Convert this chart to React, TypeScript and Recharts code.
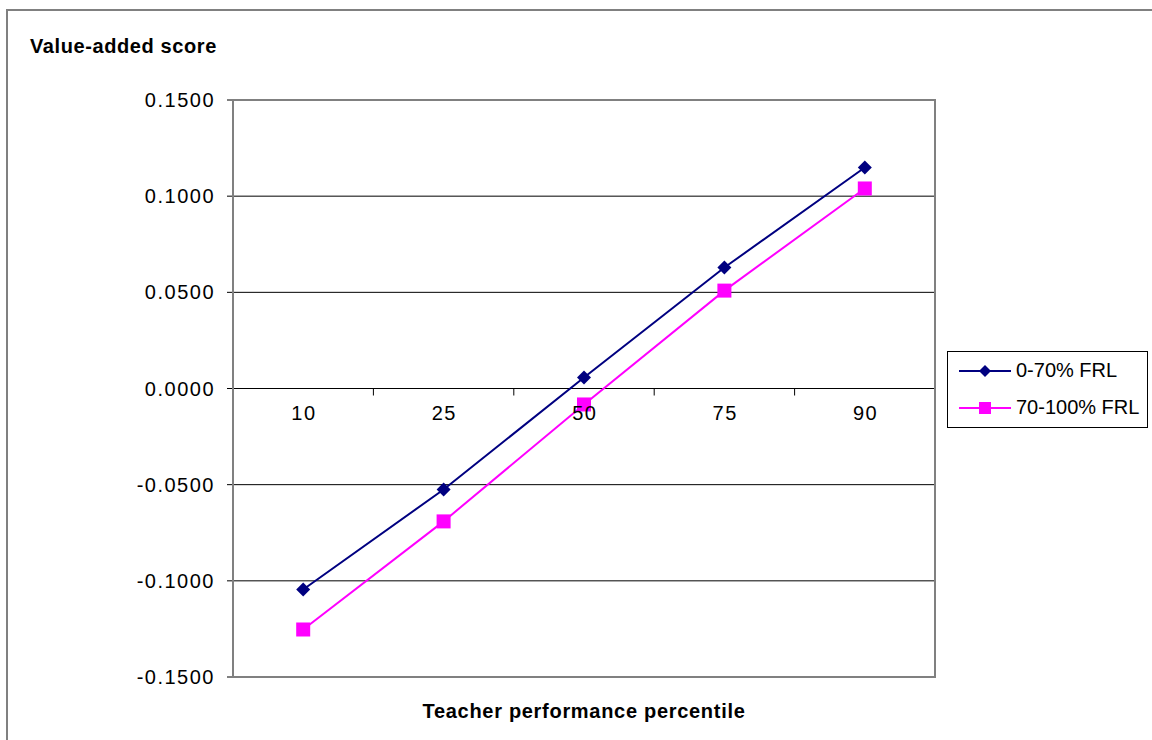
import React from 'react';
import {
  LineChart,
  Line,
  XAxis,
  YAxis,
  CartesianGrid,
} from 'recharts';

const percentiles = ['10', '25', '50', '75', '90'];
const lowFrl = [-0.1045, -0.0525, 0.0057, 0.0629, 0.1149];
const highFrl = [-0.1253, -0.0691, -0.0083, 0.0509, 0.104];
const yTicks = [-0.15, -0.1, -0.05, 0, 0.05, 0.1, 0.15];

const data = percentiles.map((p, i) => ({ p, low: lowFrl[i], high: highFrl[i] }));

const FONT = '"Liberation Sans", Arial, sans-serif';
const NAVY = '#000080';
const MAGENTA = '#FF00FF';
const GRAY = '#808080';

const W = 1152;
const H = 740;
const Y_AXIS_W = 90;
const X_AXIS_H = 30;
const M = { top: 100, right: 217, bottom: 33, left: 143 };
const PLOT_X = M.left + Y_AXIS_W;
const PLOT_W = W - PLOT_X - M.right;
const PLOT_H = H - M.top - M.bottom - X_AXIS_H;
const BAND = PLOT_W / percentiles.length;

const Diamond = (props: any) => {
  const { cx, cy } = props;
  if (cx == null || cy == null) return null;
  const r = 7;
  return <path d={`M${cx},${cy - r}L${cx + r},${cy}L${cx},${cy + r}L${cx - r},${cy}Z`} fill={NAVY} />;
};

const Square = (props: any) => {
  const { cx, cy } = props;
  if (cx == null || cy == null) return null;
  return <rect x={cx - 7} y={cy - 7} width={14} height={14} fill={MAGENTA} />;
};

// category labels sit on the zero line (axis crosses at 0), not at the bottom
const CategoryTick = (props: any) => {
  const { x, y, payload, index } = props;
  const zeroY = y - PLOT_H / 2;
  return (
    <g>
      {index > 0 && <line x1={x - BAND / 2} x2={x - BAND / 2} y1={zeroY} y2={zeroY + 7} stroke="#000" />}
      <text
        x={x + 0.75}
        y={zeroY + 31}
        textAnchor="middle"
        fontSize={20}
        letterSpacing={1.5}
        fontFamily={FONT}
        fill="#000"
      >
        {payload.value}
      </text>
    </g>
  );
};

const legendItems = [
  { name: '0-70% FRL', color: NAVY, mark: 'd' },
  { name: '70-100% FRL', color: MAGENTA, mark: 's' },
];

const LegendBox = () => (
  <div
    style={{
      position: 'absolute',
      left: 947,
      top: 351,
      border: '1px solid #000',
      width: 201,
      height: 77,
      background: '#fff',
      fontFamily: FONT,
      fontSize: 20,
      boxSizing: 'border-box',
    }}
  >
    {legendItems.map((it) => (
      <div key={it.name} style={{ display: 'flex', alignItems: 'center', height: 37 }}>
        <svg width={68} height={20} style={{ flex: 'none' }}>
          <line x1={11} x2={63} y1={10} y2={10} stroke={it.color} strokeWidth={2} />
          {it.mark === 'd' ? (
            <path d="M37,4L43,10L37,16L31,10Z" fill={it.color} />
          ) : (
            <rect x={31} y={4} width={12} height={12} fill={it.color} />
          )}
        </svg>
        <span>{it.name}</span>
      </div>
    ))}
  </div>
);

export default function App() {
  return (
    <div style={{ position: 'absolute', left: 0, top: 0, width: W, height: H, overflow: 'hidden', background: '#fff' }}>
      <div
        style={{
          position: 'absolute',
          left: 6,
          top: 9,
          width: 1200,
          height: 900,
          border: `2px solid ${GRAY}`,
        }}
      />
      <div
        style={{
          position: 'absolute',
          left: 30,
          top: 35,
          fontFamily: FONT,
          fontWeight: 'bold',
          fontSize: 20,
          letterSpacing: 0.6,
        }}
      >
        Value-added score
      </div>
      <div
        style={{
          position: 'absolute',
          left: PLOT_X,
          width: PLOT_W,
          top: 700,
          textAlign: 'center',
          fontFamily: FONT,
          fontWeight: 'bold',
          fontSize: 20,
          letterSpacing: 0.7,
        }}
      >
        Teacher performance percentile
      </div>
      <div style={{ position: 'absolute', left: 0, top: 0 }}>
        <LineChart width={W} height={H} data={data} margin={M}>
          <CartesianGrid horizontal vertical={false} stroke="#000" strokeWidth={1} />
          <XAxis
            dataKey="p"
            axisLine={false}
            tickLine={false}
            tickSize={0}
            tickMargin={0}
            height={X_AXIS_H}
            interval={0}
            padding={{ left: BAND / 2, right: BAND / 2 }}
            tick={<CategoryTick />}
          />
          <YAxis
            domain={[-0.15, 0.15]}
            ticks={yTicks}
            interval={0}
            width={Y_AXIS_W}
            tickFormatter={(v: number) => v.toFixed(4)}
            tick={{ fill: '#000', fontSize: 20, fontFamily: FONT, letterSpacing: 1.5 }}
            tickSize={6}
            tickMargin={12}
            tickLine={{ stroke: '#000' }}
            axisLine={false}
          />
          <Line
            dataKey="low"
            stroke={NAVY}
            strokeWidth={2}
            dot={<Diamond />}
            activeDot={false}
            isAnimationActive={false}
          />
          <Line
            dataKey="high"
            stroke={MAGENTA}
            strokeWidth={2}
            dot={<Square />}
            activeDot={false}
            isAnimationActive={false}
          />
        </LineChart>
      </div>
      {/* plot area frame */}
      <div
        style={{
          position: 'absolute',
          left: PLOT_X - 1,
          top: M.top - 1,
          width: PLOT_W + 2,
          height: PLOT_H + 2,
          boxSizing: 'border-box',
          border: `2px solid ${GRAY}`,
          pointerEvents: 'none',
        }}
      />
      <LegendBox />
    </div>
  );
}
